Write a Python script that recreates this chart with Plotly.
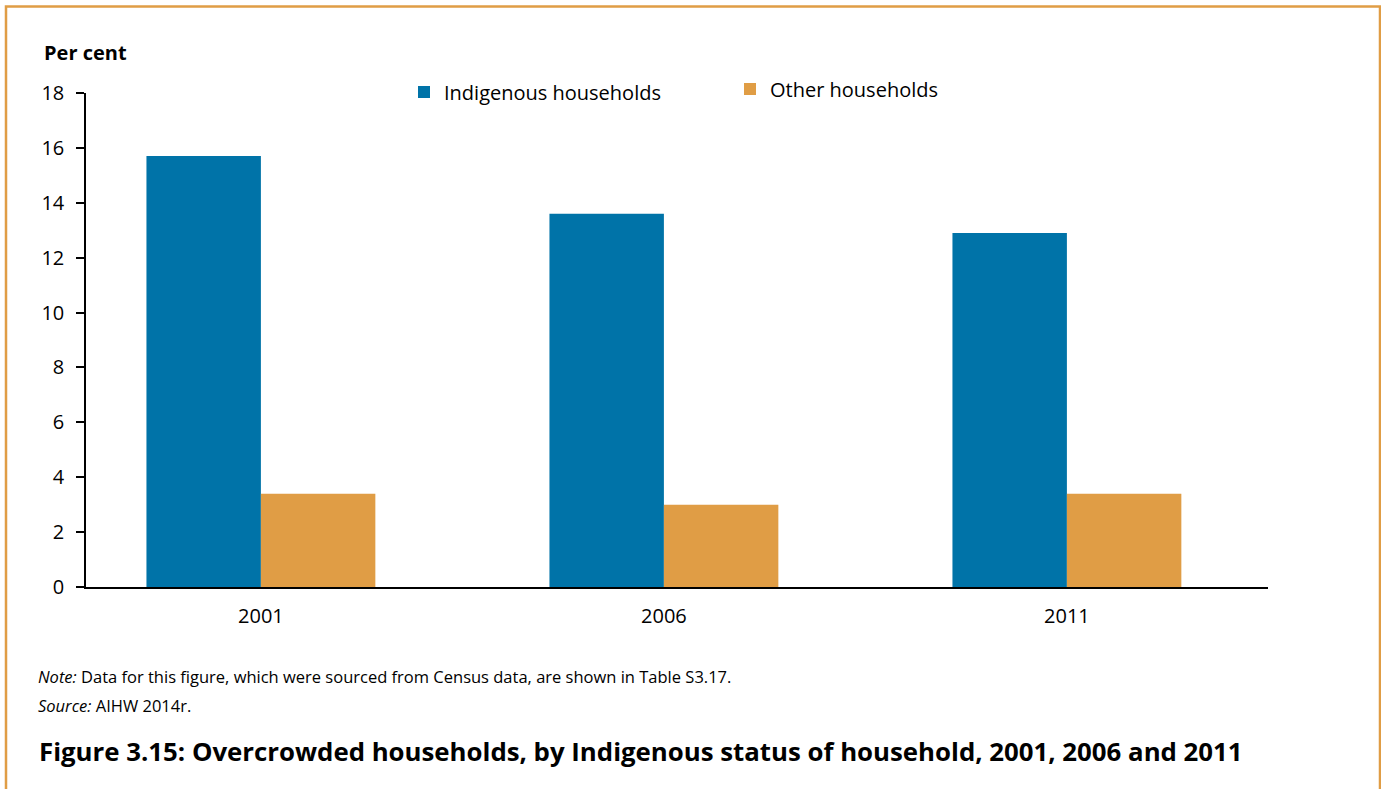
import plotly.graph_objects as go

years = ["2001", "2006", "2011"]
indigenous = [15.7, 13.6, 12.9]
other = [3.4, 3.0, 3.4]
series_names = ["Indigenous households", "Other households"]
y_ticks = [0, 2, 4, 6, 8, 10, 12, 14, 16, 18]

BLUE = "#0073A8"
ORANGE = "#E09D45"
FONT = "Open Sans"

W, H = 1381, 789
L, R, T, B = 86, 113, 93, 202
PW = W - L - R
PH = H - T - B


def px(x):
    return (x - L) / PW


def py(y):
    return (H - B - y) / PH


fig = go.Figure()
fig.add_trace(go.Bar(x=years, y=indigenous, name=series_names[0],
                     marker=dict(color=BLUE, line=dict(width=0)), legend="legend"))
fig.add_trace(go.Bar(x=years, y=other, name=series_names[1],
                     marker=dict(color=ORANGE, line=dict(width=0)), legend="legend2"))

fig.update_layout(
    width=W, height=H,
    margin=dict(l=L, r=R, t=T, b=B),
    paper_bgcolor="white", plot_bgcolor="white",
    font=dict(family=FONT, color="black", size=19),
    showlegend=True,
    barmode="group", bargap=0.432, bargroupgap=0,
    legend=dict(x=px(404), y=py(92), xanchor="left", yanchor="middle",
                font=dict(size=20, family=FONT), bgcolor="rgba(0,0,0,0)"),
    legend2=dict(x=px(730), y=py(89), xanchor="left", yanchor="middle",
                 font=dict(size=20, family=FONT), bgcolor="rgba(0,0,0,0)"),
    xaxis=dict(type="category", range=[-0.434, 2.499], showgrid=False,
               showline=True, linecolor="black", linewidth=2, ticks="",
               tickfont=dict(size=20), ticklabelstandoff=10, fixedrange=True),
    yaxis=dict(range=[0, 18], tickvals=y_ticks, showgrid=False, zeroline=False,
               showline=True, linecolor="black", linewidth=1.5,
               ticks="outside", ticklen=8, tickcolor="black", tickwidth=1.5,
               tickfont=dict(size=20), ticklabelstandoff=8, fixedrange=True),
)

# Orange frame
fig.add_shape(type="rect", xref="paper", yref="paper",
              x0=px(6), x1=px(1380), y0=py(820), y1=py(6.5),
              line=dict(color=ORANGE, width=2.5), fillcolor="rgba(0,0,0,0)", layer="below")

fig.add_annotation(xref="paper", yref="paper", x=px(42), y=py(53),
                   xanchor="left", yanchor="middle", showarrow=False,
                   text="<b>Per cent</b>", font=dict(size=20, family=FONT))
fig.add_annotation(xref="paper", yref="paper", x=px(36), y=py(676),
                   xanchor="left", yanchor="middle", showarrow=False,
                   text="<i>Note:</i> Data for this figure, which were sourced from Census data, are shown in Table S3.17.",
                   font=dict(size=16.5, family=FONT))
fig.add_annotation(xref="paper", yref="paper", x=px(36), y=py(705),
                   xanchor="left", yanchor="middle", showarrow=False,
                   text="<i>Source:</i> AIHW 2014r.",
                   font=dict(size=16.5, family=FONT))
fig.add_annotation(xref="paper", yref="paper", x=px(37), y=py(751),
                   xanchor="left", yanchor="middle", showarrow=False,
                   text="<b>Figure 3.15: Overcrowded households, by Indigenous status of household, 2001, 2006 and 2011</b>",
                   font=dict(size=25.8, family=FONT))

fig.write_html("out.html", config=dict(displayModeBar=False),
               post_script="document.body.style.margin='0';")
